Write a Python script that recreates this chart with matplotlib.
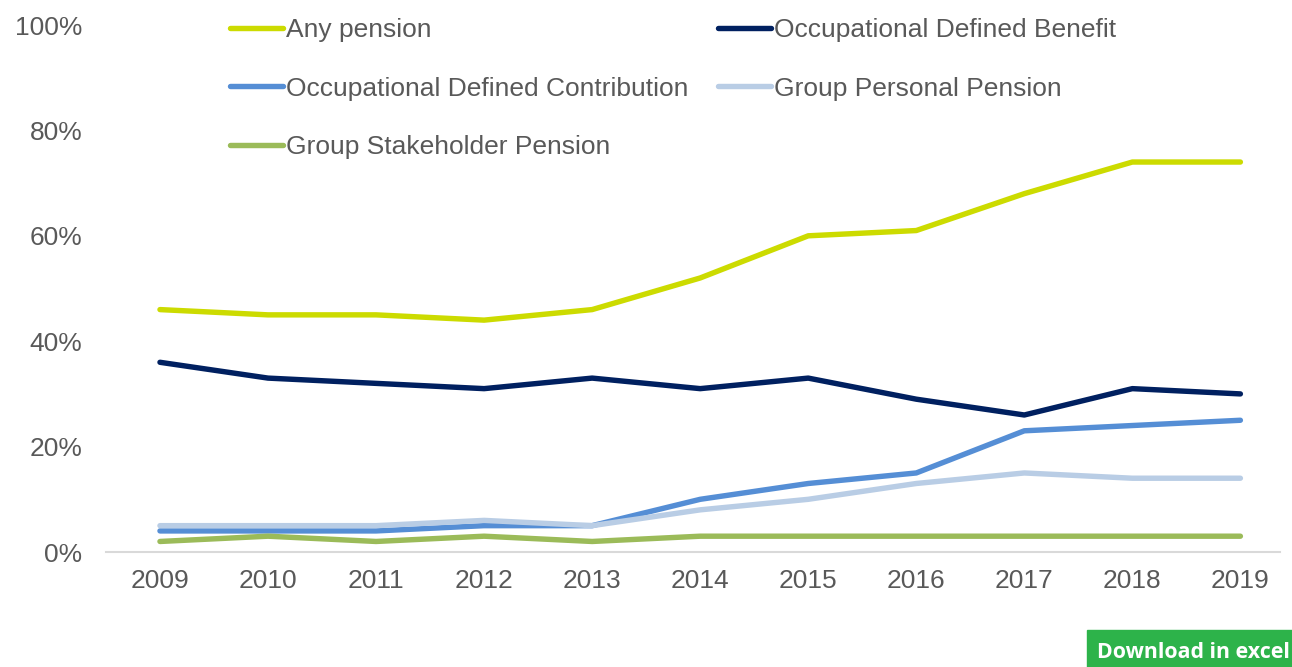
import matplotlib.pyplot as plt
import numpy as np
from matplotlib.patches import Rectangle

plt.rcParams['font.family'] = ['Liberation Sans', 'DejaVu Sans']

# Data (percent of employees)
years = ['2009', '2010', '2011', '2012', '2013', '2014', '2015', '2016', '2017', '2018', '2019']
any_pension = [46, 45, 45, 44, 46, 52, 60, 61, 68, 74, 74]
occ_db = [36, 33, 32, 31, 33, 31, 33, 29, 26, 31, 30]
occ_dc = [4, 4, 4, 5, 5, 10, 13, 15, 23, 24, 25]
group_personal = [5, 5, 5, 6, 5, 8, 10, 13, 15, 14, 14]
group_stakeholder = [2, 3, 2, 3, 2, 3, 3, 3, 3, 3, 3]

series = [
    ('Any pension', any_pension, '#CCDB00'),
    ('Occupational Defined Benefit', occ_db, '#002060'),
    ('Occupational Defined Contribution', occ_dc, '#558ED5'),
    ('Group Personal Pension', group_personal, '#B9CDE5'),
    ('Group Stakeholder Pension', group_stakeholder, '#9BBB59'),
]

fig = plt.figure(figsize=(12.92, 6.67), dpi=100)
ax = fig.add_axes([0.082, 0.1724, 0.909, 0.7901])

x = np.arange(len(years))
handles = {}
for name, vals, col in series:
    ln, = ax.plot(x, vals, color=col, lw=3.9, solid_capstyle='round',
                  solid_joinstyle='round', label=name)
    handles[name] = ln

ax.set_xlim(-0.5, 10.37)
ax.set_ylim(0, 100)
ax.set_yticks(np.arange(0, 101, 20))
ax.set_yticklabels([f'{v}%' for v in range(0, 101, 20)])
ax.set_xticks(x)
ax.set_xticklabels(years)

for s in ['top', 'right', 'left']:
    ax.spines[s].set_visible(False)
ax.spines['bottom'].set_color('#D9D9D9')
ax.spines['bottom'].set_linewidth(1.5)
ax.tick_params(axis='both', length=0, labelsize=19, colors='#595959')
ax.tick_params(axis='x', pad=12)
ax.tick_params(axis='y', pad=17)

# legend: two columns, filled column-first
order = ['Any pension', 'Occupational Defined Contribution', 'Group Stakeholder Pension',
         'Occupational Defined Benefit', 'Group Personal Pension']
leg = fig.legend([handles[n] for n in order], order, ncol=2,
                 loc='upper left', bbox_to_anchor=(0.160, 1.008),
                 frameon=False, fontsize=19, labelspacing=1.3,
                 handlelength=2.0, handletextpad=0.12, columnspacing=1.1,
                 labelcolor='#595959')

# "Download in excel" button
fig.patches.append(Rectangle((1087 / 1292, 0), 1 - 1087 / 1292, 37 / 667,
                             transform=fig.transFigure, color='#2DB34A', zorder=5))
fig.text(1097 / 1292, 14 / 667, 'Download in excel', color='white', fontsize=15.4,
         fontweight='bold', va='center', ha='left', zorder=6, family=['Open Sans', 'DejaVu Sans'])

fig.savefig('out.png', dpi=100)
